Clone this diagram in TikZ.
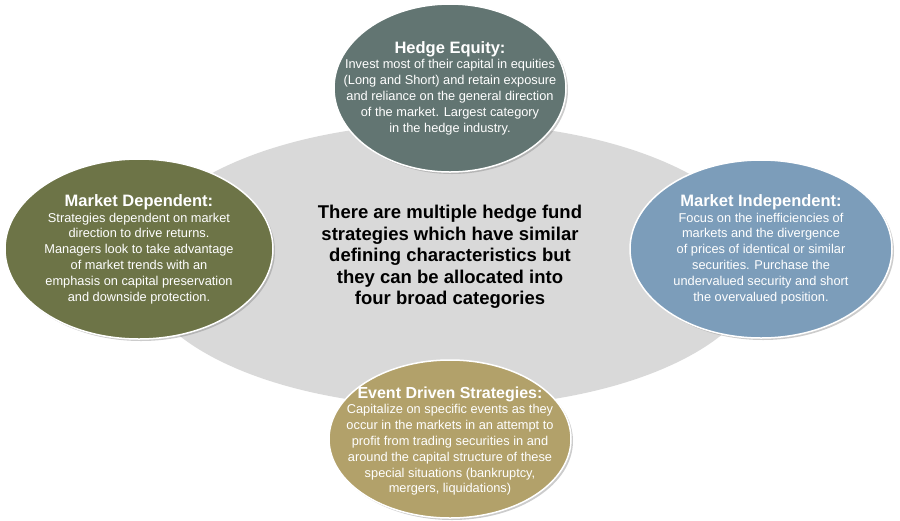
\documentclass[tikz,border=0pt]{standalone}
\usepackage{fontspec}
\setmainfont{Liberation Sans}
\usetikzlibrary{shapes.geometric,shadows}
\definecolor{cslate}{HTML}{627572}
\definecolor{colive}{HTML}{6D7447}
\definecolor{cblue}{HTML}{7C9DBA}
\definecolor{ctan}{HTML}{B2A16A}
\definecolor{cgray}{HTML}{D9D9D9}
\tikzset{
 oval/.style={ellipse, draw=white, line width=1.5pt, drop shadow={shadow xshift=2pt,shadow yshift=-2pt,opacity=0.4}},
 txt/.style={text=white, align=center, font=\fontsize{12.8}{15.8}\selectfont},
}
\newcommand{\ttl}[1]{{\fontsize{16.5}{19}\selectfont\bfseries #1}\\}
\begin{document}
\begin{tikzpicture}[x=1pt,y=-1pt]
\useasboundingbox (0,0) rectangle (900,520);
\fill[cgray] (450,265) ellipse [x radius=312, y radius=142];
\node[font=\fontsize{18.5}{21.5}\selectfont\bfseries, align=center] (c) at (450,257) {There are multiple hedge fund\\strategies which have similar\\defining characteristics but\\they can be allocated into\\four broad categories};
\fill[cslate,oval] (450,88) ellipse [x radius=116, y radius=84];
\node[txt] (t) at (450,88) {\ttl{Hedge Equity:}Invest most of their capital in equities\\(Long and Short) and retain exposure\\and reliance on the general direction\\of the market. Largest category\\in the hedge industry.};
\fill[colive,oval] (139,249) ellipse [x radius=134, y radius=90];
\node[txt] (l) at (139,249) {\ttl{Market Dependent:}Strategies dependent on market\\direction to drive returns.\\Managers look to take advantage\\of market trends with an\\emphasis on capital preservation\\and downside protection.};
\fill[cblue,oval] (761,249) ellipse [x radius=131, y radius=89];
\node[txt] (r) at (761,249) {\ttl{Market Independent:}Focus on the inefficiencies of\\markets and the divergence\\of prices of identical or similar\\securities. Purchase the\\undervalued security and short\\the overvalued position.};
\fill[ctan,oval] (450,439) ellipse [x radius=121, y radius=79];
\node[txt] (b) at (450,441) {{\fontsize{16}{19}\selectfont\bfseries Event Driven Strategies:}\\Capitalize on specific events as they\\occur in the markets in an attempt to\\profit from trading securities in and\\around the capital structure of these\\special situations (bankruptcy,\\mergers, liquidations)};
\end{tikzpicture}
\end{document}
